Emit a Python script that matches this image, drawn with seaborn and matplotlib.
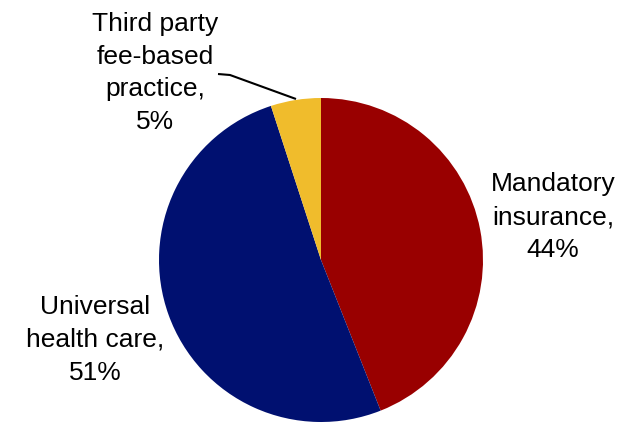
import matplotlib
matplotlib.use("Agg")
import matplotlib.pyplot as plt
import seaborn as sns

sns.set_style("white")
plt.rcParams['font.family'] = ['Liberation Sans', 'DejaVu Sans']

categories = ["Mandatory\ninsurance,", "Universal\nhealth care,", "Third party\nfee-based\npractice,"]
shares = [44, 51, 5]
colors = ["#990000", "#001070", "#F0BC2C"]

W, H = 628, 424
fig = plt.figure(figsize=(W / 100, H / 100), dpi=100)
ax = fig.add_axes([0, 0, 1, 1])

cx, cy, r = 321, H - 260, 162
ax.pie(shares, colors=colors, startangle=90, counterclock=False,
       center=(cx, cy), radius=r, frame=True,
       wedgeprops=dict(linewidth=0))
ax.set_xlim(0, W)
ax.set_ylim(0, H)
ax.set_aspect("equal")
ax.axis("off")

label_pos = [(553, H - 217), (95, H - 340), (155, H - 73)]
for cat, val, (x, y) in zip(categories, shares, label_pos):
    ax.text(x, y, f"{cat}\n{val}%", ha="center", va="center", multialignment="center",
            fontsize=19, color="black", linespacing=1.45)

# leader line for the small slice
ax.plot([218, 230, 296], [H - 74, H - 75, H - 99], color="black", lw=1.5,
        solid_capstyle="butt")

fig.savefig("out.png", dpi=100)
